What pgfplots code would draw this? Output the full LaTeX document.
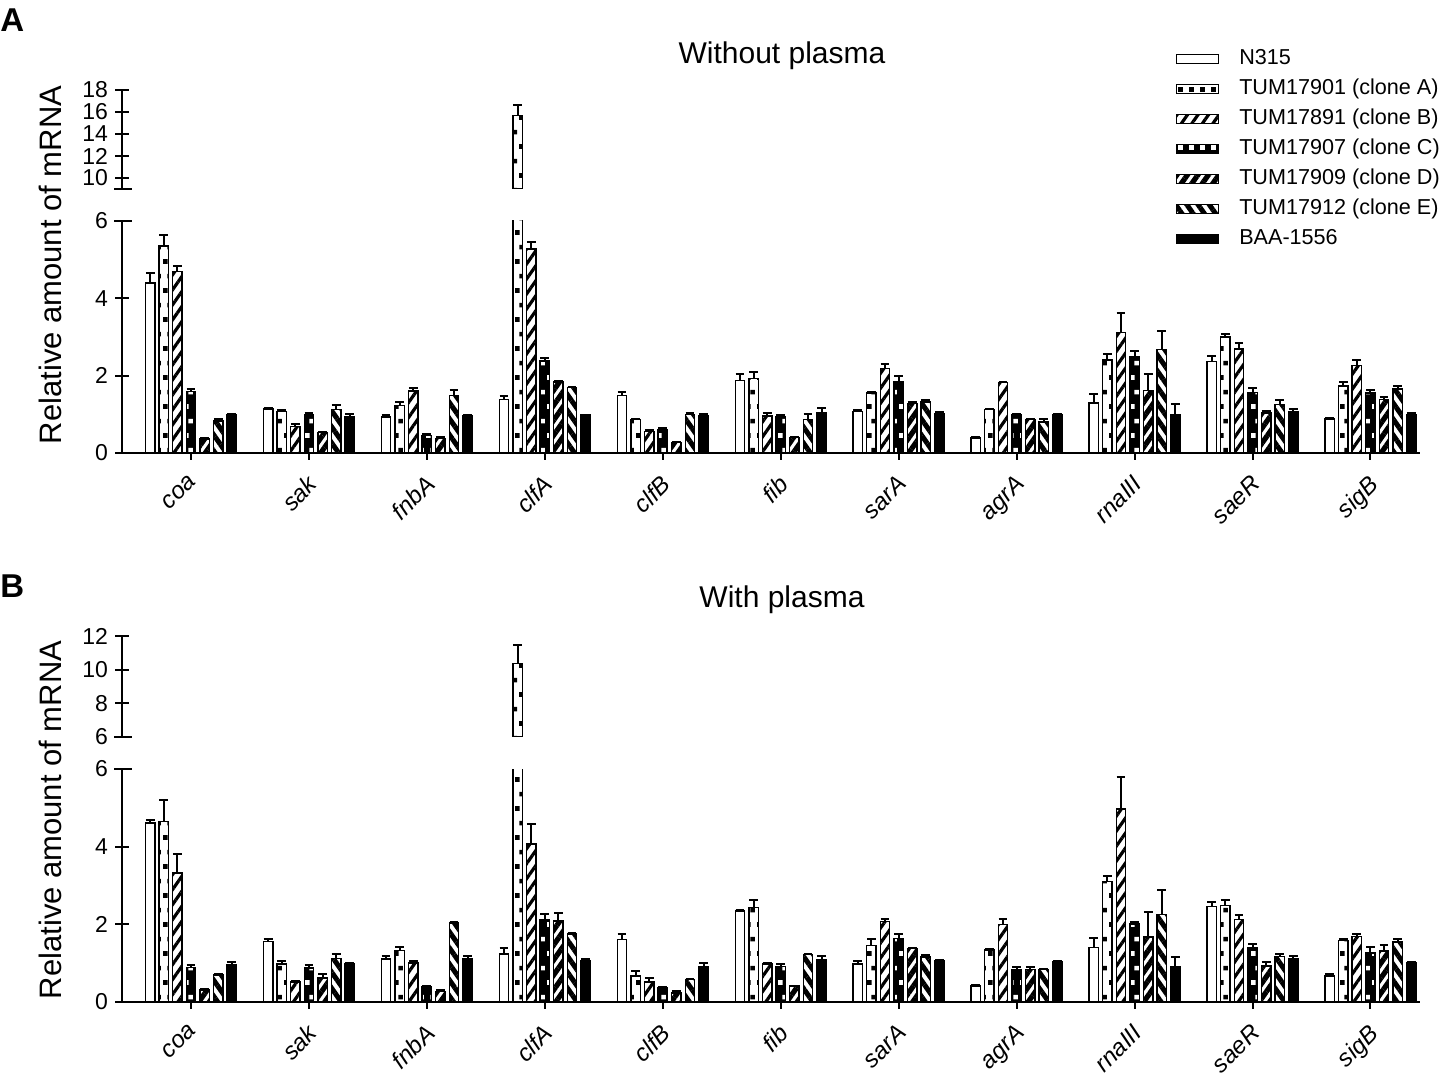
\documentclass[border=0pt]{standalone}
\usepackage{fontspec}
\setmainfont{Liberation Sans}
\usepackage{pgfplots}
\usepackage{pgfplotstable}
\pgfplotsset{compat=1.18}
\usetikzlibrary{patterns,patterns.meta}

\pgfdeclarepattern{
  name=sqdots, type=uncolored,
  bottom left={\pgfpoint{0pt}{0pt}},
  top right={\pgfpoint{5.4pt}{14.4pt}},
  tile size={\pgfpoint{5.4pt}{14.4pt}},
  code={
    \pgfpathrectangle{\pgfpoint{0.6pt}{2.6pt}}{\pgfpoint{2.3pt}{2.3pt}}
    \pgfpathrectangle{\pgfpoint{2.7pt}{9.8pt}}{\pgfpoint{2.3pt}{2.3pt}}
    \pgfusepath{fill}
  }
}

% Panel A: value and upper error for each strain
\pgfplotstableread{
x n ne a ae b be c ce d de e ee k ke
0  4.40 .25 5.35 .28 4.69 .15 1.59 .07 0.36 .02 0.83 .05 1.00 .02
1  1.14 .03 1.08 .03 0.69 .07 0.98 .06 0.53 .02 1.12 .12 0.95 .07
2  0.93 .04 1.23 .10 1.60 .08 0.46 .03 0.38 .03 1.49 .13 0.97 .01
3  1.38 .10 15.7 .90 5.28 .18 2.38 .08 1.84 .02 1.69 .02 0.98 .01
4  1.49 .09 0.86 .03 0.56 .04 0.61 .03 0.27 .01 0.99 .05 0.96 .04
5  1.87 .18 1.92 .17 0.96 .07 0.93 .04 0.40 .01 0.87 .13 1.03 .13
6  1.07 .03 1.55 .03 2.19 .10 1.85 .13 1.28 .03 1.32 .04 1.02 .04
7  0.39 .03 1.12 .03 1.82 .02 0.99 .01 0.86 .02 0.80 .07 1.00 .02
8  1.29 .24 2.40 .16 3.12 .49 2.49 .16 1.62 .43 2.67 .48 0.99 .28
9  2.37 .14 3.00 .07 2.69 .15 1.56 .12 1.03 .06 1.26 .12 1.07 .07
10 0.88 .03 1.73 .10 2.27 .14 1.55 .07 1.39 .07 1.66 .07 0.99 .04
}\tabA

% Panel B
\pgfplotstableread{
x n ne a ae b be c ce d de e ee k ke
0  4.61 .08 4.65 .56 3.32 .50 0.89 .06 0.31 .02 0.70 .02 0.97 .07
1  1.56 .07 0.98 .08 0.52 .02 0.88 .06 0.62 .09 1.12 .11 0.98 .02
2  1.11 .07 1.33 .09 1.00 .06 0.39 .02 0.27 .04 2.03 .02 1.11 .07
3  1.24 .15 10.38 1.06 4.07 .52 2.12 .15 2.09 .20 1.75 .03 1.07 .05
4  1.61 .13 0.67 .12 0.52 .10 0.37 .02 0.23 .05 0.58 .02 0.91 .09
5  2.34 .02 2.44 .18 0.98 .02 0.91 .07 0.41 .01 1.22 .01 1.10 .09
6  0.98 .07 1.46 .15 2.07 .07 1.63 .12 1.37 .03 1.16 .05 1.06 .02
7  0.41 .02 1.34 .02 1.99 .15 0.82 .07 0.84 .05 0.84 .02 1.03 .02
8  1.41 .24 3.10 .14 4.97 .82 2.01 .05 1.67 .64 2.26 .63 0.92 .23
9  2.46 .11 2.49 .14 2.12 .12 1.39 .10 0.93 .09 1.17 .07 1.11 .07
10 0.67 .05 1.58 .04 1.69 .07 1.26 .16 1.31 .16 1.55 .06 1.01 .02
}\tabB

\pgfplotsset{
  bs/.style={ybar, bar width=4.7pt, bar shift=0pt, line width=0.7pt, draw=black,
    legend image code/.code={\draw[##1] (0pt,-2.25pt) rectangle (21pt,2.25pt); \path (30pt,0pt);},
    /pgfplots/error bars/y dir=plus,
    /pgfplots/error bars/y explicit,
    /pgfplots/error bars/error bar style={line width=1pt, black, solid},
    /pgfplots/error bars/error mark options={line width=1pt, black, mark size=2.2pt, rotate=90}},
  sN/.style={bs, fill=white},
  sA/.style={bs, pattern=sqdots, pattern color=black},
  sB/.style={bs, pattern={Lines[angle=55,distance=4.3pt,line width=1.6pt]}, pattern color=black},
  sC/.style={bs, fill=black, postaction={pattern=sqdots, pattern color=white}},
  sD/.style={bs, pattern={Lines[angle=55,distance=4.3pt,line width=2.6pt]}, pattern color=black},
  sE/.style={bs, pattern={Lines[angle=-55,distance=4.6pt,line width=2.5pt]}, pattern color=black},
  sK/.style={bs, fill=black},
  common/.style={scale only axis, width=649pt, anchor=south west,
    xmin=-0.585, xmax=10.42,
    tick align=outside, major tick length=7pt,
    tick style={line width=1pt, black},
    /pgf/number format/assume math mode=true,
    yticklabel style={font=\fontsize{11.5}{12}\selectfont},
  },
  lowax/.style={common, ymin=0, ymax=6, ytick={0,2,4,6},
    axis x line=bottom, axis y line=left,
    axis line style={-, line width=1pt},
    x axis line style={-}, y axis line style={-},
    xtick={0,...,10},
    xticklabels={coa,sak,fnbA,clfA,clfB,fib,sarA,agrA,rnaIII,saeR,sigB},
    xticklabel style={font=\fontsize{12}{13}\selectfont\itshape, rotate=45, anchor=north east, xshift=-2.4pt, yshift=-0.4pt},
  },
  upax/.style={common, axis x line=none, axis y line=left,
    axis line style={-, line width=1pt}, y axis line style={-}},
}

% bars of one gene are 0.1153 category units apart
\newcommand{\plotall}[2][]{%
  \addplot[sN,#1] table[x expr=\thisrow{x}-0.3459,y=n,y error=ne]{#2};
  \addplot[sA,#1] table[x expr=\thisrow{x}-0.2306,y=a,y error=ae]{#2};
  \addplot[sB,#1] table[x expr=\thisrow{x}-0.1153,y=b,y error=be]{#2};
  \addplot[sC,#1] table[x expr=\thisrow{x},y=c,y error=ce]{#2};
  \addplot[sD,#1] table[x expr=\thisrow{x}+0.1153,y=d,y error=de]{#2};
  \addplot[sE,#1] table[x expr=\thisrow{x}+0.2306,y=e,y error=ee]{#2};
  \addplot[sK,#1] table[x expr=\thisrow{x}+0.3459,y=k,y error=ke]{#2};
}

\begin{document}
\begin{tikzpicture}
\path[use as bounding box] (0,0) rectangle (724pt,538pt);

% ---------- Panel A ----------
\begin{axis}[lowax, at={(61pt,311.5pt)}, height=116pt,
  legend style={at={(axis description cs:0.807,1.772)}, anchor=north west,
    draw=none, fill=none, font=\fontsize{10.8}{13}\selectfont,
    row sep=2.5pt, nodes={inner sep=1pt, text height=8pt, text depth=2.5pt}},
  legend cell align=left]
\plotall{\tabA}
\legend{N315, TUM17901 (clone A), TUM17891 (clone B), TUM17907 (clone C), TUM17909 (clone D), TUM17912 (clone E), BAA-1556}
\end{axis}

\begin{axis}[upax, at={(61pt,443.5pt)}, height=49.5pt, ymin=9, ymax=18, ytick={10,12,...,18}]
\plotall[restrict y to domain=9:40]{\tabA}
\end{axis}

% ---------- Panel B ----------
\begin{axis}[lowax, at={(61pt,37pt)}, height=116.5pt]
\plotall{\tabB}
\end{axis}

\begin{axis}[upax, at={(61pt,169.5pt)}, height=50.5pt, ymin=6, ymax=12, ytick={6,8,10,12}]
\plotall[restrict y to domain=6:40]{\tabB}
\end{axis}

% axis break caps
\draw[line width=1pt] (57pt,427.5pt) -- (66pt,427.5pt);
\draw[line width=1pt] (57pt,443.5pt) -- (66pt,443.5pt);
\draw[line width=1pt] (57pt,153.5pt) -- (66pt,153.5pt);
\draw[line width=1pt] (57pt,169.5pt) -- (66pt,169.5pt);

% labels
\node[rotate=90, font=\fontsize{15.5}{17}\selectfont] at (25pt,405.5pt) {Relative amount of mRNA};
\node[rotate=90, font=\fontsize{15.5}{17}\selectfont] at (25pt,128pt) {Relative amount of mRNA};
\node[font=\fontsize{15}{17}\selectfont] at (391pt,510pt) {Without plasma};
\node[font=\fontsize{15}{17}\selectfont] at (391pt,238pt) {With plasma};
\node[anchor=west, inner sep=0pt, font=\fontsize{16.5}{18}\selectfont\bfseries] at (0pt,528pt) {A};
\node[anchor=west, inner sep=0pt, font=\fontsize{16.5}{18}\selectfont\bfseries] at (0pt,245pt) {B};
\end{tikzpicture}
\end{document}
